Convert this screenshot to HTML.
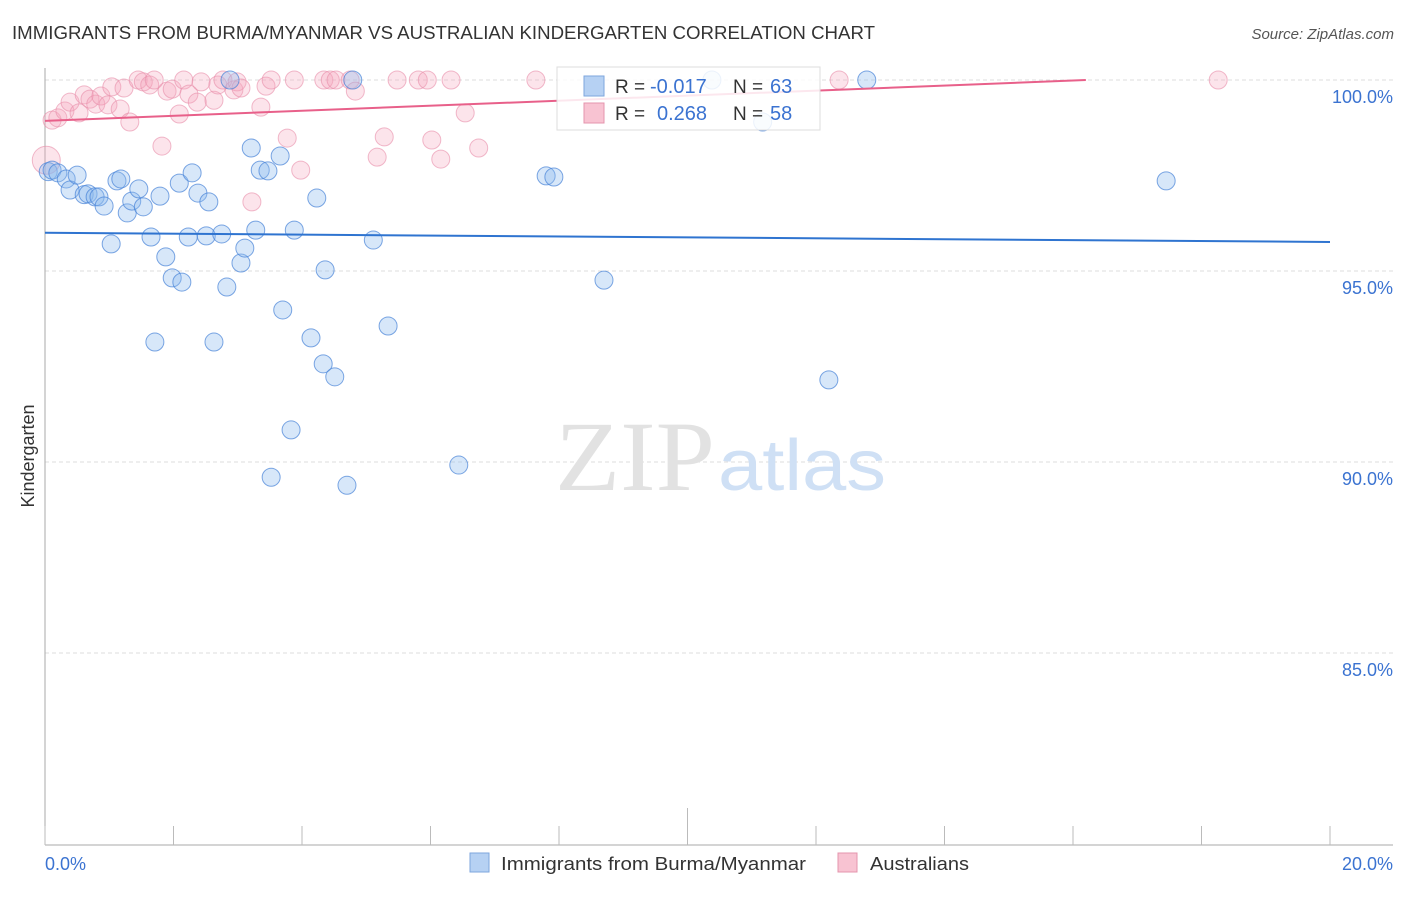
<!DOCTYPE html>
<html><head><meta charset="utf-8">
<style>
body{margin:0;background:#fff;font-family:"Liberation Sans",sans-serif;}
svg text{font-family:"Liberation Sans",sans-serif;}
</style></head>
<body>
<svg width="1406" height="892" viewBox="0 0 1406 892">
<text x="12" y="39" font-size="18" fill="#333" textLength="863" lengthAdjust="spacingAndGlyphs">IMMIGRANTS FROM BURMA/MYANMAR VS AUSTRALIAN KINDERGARTEN CORRELATION CHART</text>
<text x="1394" y="39" font-size="15" fill="#555" font-style="italic" text-anchor="end">Source: ZipAtlas.com</text>
<g id="grid"></g>
<text x="555" y="490" font-size="100" fill="#e2e2e2" textLength="160" lengthAdjust="spacingAndGlyphs" font-family="Liberation Serif" style="font-family:'Liberation Serif',serif">ZIP</text>
<text x="718" y="490" font-size="72" fill="#cfe0f5" textLength="168" lengthAdjust="spacingAndGlyphs">atlas</text>
<g id="marks"></g>
<text transform="translate(34,456) rotate(-90)" font-size="18" fill="#333" text-anchor="middle">Kindergarten</text>
<text x="45" y="870" font-size="18" fill="#3b73d1">0.0%</text>
<text x="1393" y="870" font-size="18" fill="#3b73d1" text-anchor="end">20.0%</text>
<g>
<rect x="470" y="853" width="19" height="19" fill="#b6d1f3" stroke="#7ea6de"/>
<text x="501" y="870" font-size="18" fill="#333" textLength="305" lengthAdjust="spacingAndGlyphs">Immigrants from Burma/Myanmar</text>
<rect x="838" y="853" width="19" height="19" fill="#f8c3d2" stroke="#e495ad"/>
<text x="870" y="870" font-size="18" fill="#333" textLength="99" lengthAdjust="spacingAndGlyphs">Australians</text>
</g>
<g>
<rect x="557" y="67" width="263" height="63" fill="#fff" fill-opacity="0.85" stroke="#ddd"/>
<rect x="584" y="76" width="20" height="20" fill="#b6d1f3" stroke="#7ea6de"/>
<text x="615" y="93" font-size="19" fill="#333">R =</text>
<text x="650" y="93" font-size="20" fill="#3b73d1">-0.017</text>
<text x="733" y="93" font-size="19" fill="#333">N =</text>
<text x="770" y="93" font-size="20" fill="#3b73d1">63</text>
<rect x="584" y="103" width="20" height="20" fill="#f8c3d2" stroke="#e495ad"/>
<text x="615" y="120" font-size="19" fill="#333">R =</text>
<text x="657" y="120" font-size="20" fill="#3b73d1">0.268</text>
<text x="733" y="120" font-size="19" fill="#333">N =</text>
<text x="770" y="120" font-size="20" fill="#3b73d1">58</text>
</g>
</svg>
<script>
const yTicks=[100,95,90,85];
const xTicks=[0,2,4,6,8,10,12,14,16,18,20];
const burmaX=[0.05,0.11,0.2,0.33,0.39,0.5,0.61,0.67,0.78,0.84,0.92,1.03,1.12,1.18,1.28,1.35,1.46,1.53,1.65,1.71,1.79,1.88,1.98,2.09,2.13,2.23,2.29,2.38,2.51,2.55,2.63,2.75,2.83,2.88,3.05,3.11,3.21,3.28,3.35,3.47,3.52,3.66,3.7,3.83,3.88,4.14,4.23,4.33,4.36,4.51,4.7,4.79,5.11,5.34,6.44,7.8,7.92,8.7,10.38,11.17,12.2,12.79,17.45];
const burmaY=[97.6,97.64,97.57,97.41,97.12,97.51,97.0,97.02,96.94,96.94,96.7,95.71,97.36,97.41,96.52,96.83,97.15,96.68,95.89,93.14,96.96,95.37,94.82,97.3,94.71,95.89,97.57,97.04,95.92,96.81,93.14,95.97,94.58,100.0,95.21,95.6,98.22,96.07,97.64,97.62,89.6,98.01,93.98,90.84,96.07,93.25,96.91,92.57,95.03,92.23,89.39,100.0,95.81,93.56,89.92,97.49,97.46,94.76,100.0,98.9,92.15,100.0,97.36];
const ausX=[0.02,0.11,0.2,0.31,0.39,0.53,0.61,0.7,0.79,0.87,0.98,1.04,1.17,1.23,1.32,1.45,1.53,1.63,1.7,1.82,1.9,1.98,2.09,2.16,2.24,2.37,2.43,2.63,2.69,2.77,2.94,2.99,3.05,3.22,3.36,3.44,3.52,3.77,3.88,3.98,4.34,4.44,4.53,4.75,4.83,5.17,5.28,5.48,5.81,5.95,6.02,6.16,6.32,6.54,6.75,7.64,12.36,18.26];
const ausY=[97.9,98.95,99.01,99.19,99.42,99.14,99.61,99.5,99.37,99.58,99.35,99.82,99.24,99.79,98.9,100.0,99.95,99.87,100.0,98.27,99.71,99.76,99.11,100.0,99.63,99.42,99.95,99.47,99.87,100.0,99.74,99.95,99.79,96.81,99.29,99.84,100.0,98.48,100.0,97.64,100.0,100.0,100.0,100.0,99.71,97.98,98.51,100.0,100.0,100.0,98.43,97.93,100.0,99.14,98.22,100.0,100.0,100.0];
const burmaTrend=[[0,96.0],[20,95.76]];
const ausTrend=[[0,98.93],[16.2,100.0]];
const NS='http://www.w3.org/2000/svg';
const xs=v=>45+v*64.25;
const ys=v=>80+(100-v)*38.2;
function mk(t,a,p){const e=document.createElementNS(NS,t);for(const k in a)e.setAttribute(k,a[k]);p.appendChild(e);return e;}
const grid=document.getElementById('grid');
const marks=document.getElementById('marks');
yTicks.forEach(v=>{
  const l=mk('line',{x1:45,x2:1393,y1:ys(v),y2:ys(v),stroke:'#ddd','stroke-dasharray':'4,3'},grid);
  
  
  const t=mk('text',{x:1393,y:ys(v)+23,'font-size':18,fill:'#3b73d1','text-anchor':'end'},grid);
  t.textContent=v.toFixed(1)+'%';
  
  
});
const ax=mk('line',{x1:45,x2:45,y1:68,y2:845,stroke:'#aaa'},grid);


const bx=mk('line',{x1:45,x2:1393,y1:845,y2:845,stroke:'#aaa'},grid);


xTicks.forEach(v=>{
  const t=mk('line',{x1:xs(v),x2:xs(v),y1:(v===10?808:826),y2:845,stroke:'#bbb'},grid);
  
  
});
ausX.forEach((x,i)=>{
  const c=mk('circle',{cx:xs(x),cy:ys(ausY[i]),r:i===0?14:9,fill:'rgba(244,165,190,0.3)',stroke:'rgba(232,140,168,0.6)','stroke-width':1},marks);
  
  
});
burmaX.forEach((x,i)=>{
  const c=mk('circle',{cx:xs(x),cy:ys(burmaY[i]),r:9,fill:'rgba(140,185,238,0.35)',stroke:'rgba(70,130,215,0.7)','stroke-width':1},marks);
  
  
});
const bl=mk('line',{x1:xs(burmaTrend[0][0]),y1:ys(burmaTrend[0][1]),x2:xs(burmaTrend[1][0]),y2:ys(burmaTrend[1][1]),stroke:'#2f74d0','stroke-width':2},marks);


const al=mk('line',{x1:xs(ausTrend[0][0]),y1:ys(ausTrend[0][1]),x2:xs(ausTrend[1][0]),y2:ys(ausTrend[1][1]),stroke:'#e8608a','stroke-width':2},marks);


</script>
</body></html>
